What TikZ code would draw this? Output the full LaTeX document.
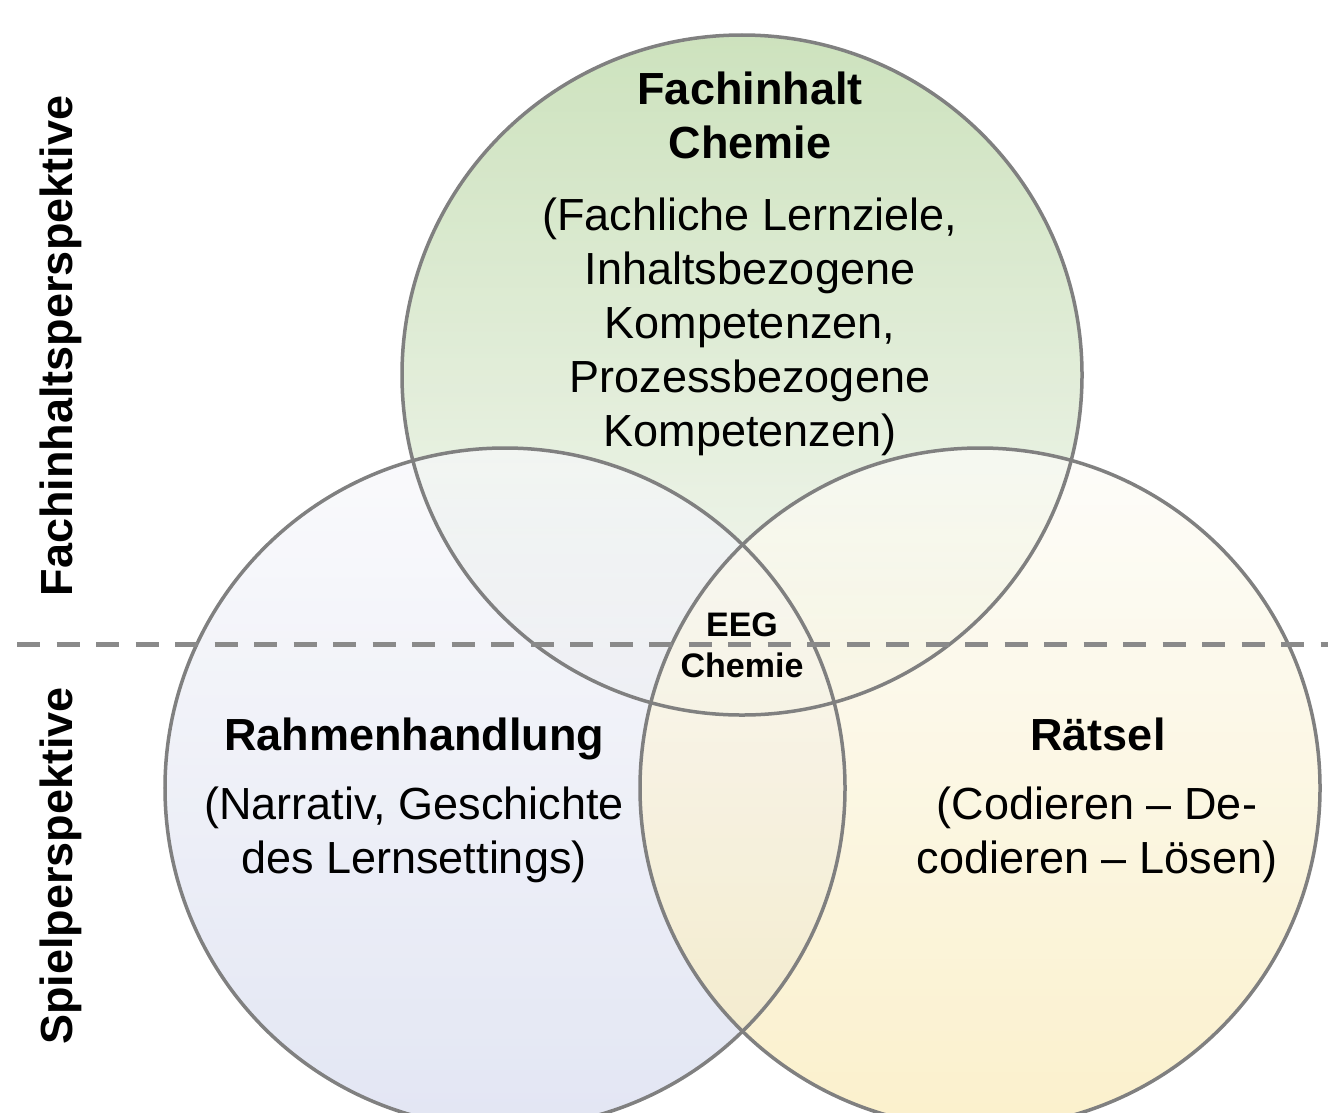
\documentclass[tikz,border=0pt]{standalone}
\usepackage{fontspec}
\setmainfont{Liberation Sans}
\definecolor{ringgray}{RGB}{128,128,128}
\definecolor{dashgray}{RGB}{138,138,138}
\definecolor{greentop}{RGB}{184,214,162}
\definecolor{greenbot}{RGB}{242,245,239}
\definecolor{bluetop}{RGB}{248,248,251}
\definecolor{bluebot}{RGB}{214,219,238}
\definecolor{yeltop}{RGB}{252,252,248}
\definecolor{yelbot}{RGB}{249,234,182}
\begin{document}
\begin{tikzpicture}[x=1bp,y=-1bp,
  ring/.style={circle, minimum size=680bp, inner sep=0pt, fill opacity=0.7},
  outline/.style={draw=ringgray, line width=3.5bp},
  sepline/.style={draw=dashgray, line width=5bp, dash pattern=on 23bp off 16.5bp},
  big/.style={font=\fontsize{45bp}{54bp}\selectfont, align=center, inner sep=0pt, anchor=base},
  bigb/.style={big, font=\fontsize{45bp}{54bp}\selectfont\bfseries},
  small/.style={font=\fontsize{34bp}{41bp}\selectfont\bfseries, align=center, inner sep=0pt, anchor=base}]
\useasboundingbox (0,0) rectangle (1328,1112);
\clip (0,0) rectangle (1328,1112);
% fills
\node[ring, top color=greentop, bottom color=greenbot] (top) at (742,375) {};
\node[ring, top color=bluetop, bottom color=bluebot] (left) at (505,788) {};
\node[ring, top color=yeltop, bottom color=yelbot] (right) at (980,788) {};
% outlines
\draw[outline] (top.center) circle[radius=340bp];
\draw[outline] (left.center) circle[radius=340bp];
\draw[outline] (right.center) circle[radius=340bp];
% separator
\coordinate (sepL) at (17,644);
\coordinate (sepR) at (1340,644);
\draw[sepline] (sepL) -- (sepR);
% texts (base anchor = baseline of the last line)
\node[bigb] (t1) at (750,158) {Fachinhalt\\Chemie};
\node[big] (t2) at (750,446) {(Fachliche Lernziele,\\Inhaltsbezogene\\Kompetenzen,\\Prozessbezogene\\Kompetenzen)};
\node[bigb] (l1) at (414,750) {Rahmenhandlung};
\node[big] (l2) at (414,873) {(Narrativ, Geschichte\\des Lernsettings)};
\node[bigb] (r1) at (1098,750) {Rätsel};
\node[big] (r2) at (1097,873) {(Codieren – De-\\codieren – Lösen)};
\node[small] (c) at (742,677) {EEG\\Chemie};
\node[bigb, rotate=90] (v1) at (72,346) {Fachinhaltsperspektive};
\node[bigb, rotate=90] (v2) at (72,866) {Spielperspektive};
\end{tikzpicture}
\end{document}
